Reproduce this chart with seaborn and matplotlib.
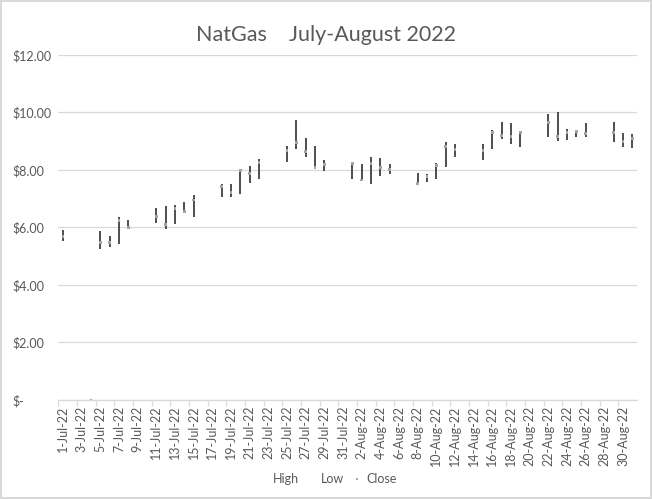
import pandas as pd
import numpy as np
import matplotlib
matplotlib.use("Agg")
import matplotlib.pyplot as plt
import matplotlib.dates as mdates
from matplotlib.lines import Line2D
import seaborn as sns

# trading days (Jul 4 holiday shows as a zero close)
dates = ["2022-07-01", "2022-07-04", "2022-07-05", "2022-07-06", "2022-07-07", "2022-07-08",
         "2022-07-11", "2022-07-12", "2022-07-13", "2022-07-14", "2022-07-15",
         "2022-07-18", "2022-07-19", "2022-07-20", "2022-07-21", "2022-07-22",
         "2022-07-25", "2022-07-26", "2022-07-27", "2022-07-28", "2022-07-29",
         "2022-08-01", "2022-08-02", "2022-08-03", "2022-08-04", "2022-08-05",
         "2022-08-08", "2022-08-09", "2022-08-10", "2022-08-11", "2022-08-12",
         "2022-08-15", "2022-08-16", "2022-08-17", "2022-08-18", "2022-08-19",
         "2022-08-22", "2022-08-23", "2022-08-24", "2022-08-25", "2022-08-26",
         "2022-08-29", "2022-08-30", "2022-08-31"]
high = [5.91, np.nan, 5.88, 5.70, 6.37, 6.26,
        6.68, 6.75, 6.78, 6.88, 7.13,
        7.51, 7.51, 7.99, 8.14, 8.38,
        8.83, 9.74, 9.10, 8.83, 8.35,
        8.27, 8.20, 8.44, 8.41, 8.20,
        7.88, 7.85, 8.23, 8.96, 8.90,
        8.90, 9.38, 9.67, 9.63, 9.35,
        9.95, 10.02, 9.43, 9.39, 9.63,
        9.67, 9.29, 9.25]
low = [5.54, np.nan, 5.26, 5.33, 5.44, 5.97,
       6.17, 5.96, 6.13, 6.49, 6.38,
       7.05, 7.07, 7.15, 7.56, 7.70,
       8.29, 8.72, 8.44, 8.06, 7.97,
       7.69, 7.61, 7.50, 7.78, 7.85,
       7.51, 7.57, 7.68, 8.12, 8.46,
       8.36, 8.73, 9.09, 8.89, 8.81,
       9.14, 9.02, 9.05, 9.14, 9.14,
       8.99, 8.81, 8.78]
close = [5.68, 0.0, 5.47, 5.47, 6.24, 5.99,
         6.38, 6.10, 6.65, 6.55, 6.96,
         7.42, 7.21, 7.98, 7.87, 8.25,
         8.67, 8.95, 8.64, 8.08, 8.18,
         8.23, 7.65, 8.22, 8.08, 8.01,
         7.54, 7.77, 8.15, 8.81, 8.72,
         8.67, 9.31, 9.21, 9.16, 9.31,
         9.66, 9.16, 9.30, 9.33, 9.26,
         9.30, 8.99, 9.09]
y_ticks = [0, 2, 4, 6, 8, 10, 12]

df = pd.DataFrame({"date": pd.to_datetime(dates), "high": high, "low": low, "close": close})

sns.set_theme(style="white")
plt.rcParams["font.family"] = ["Lato", "DejaVu Sans"]
grey_text = "#595959"
grid_col = "#d9d9d9"

fig = plt.figure(figsize=(6.52, 4.99), dpi=100)
fig.patch.set_edgecolor(grid_col)
fig.patch.set_linewidth(1.5)
ax = fig.add_axes([0.0894, 0.1984, 0.8876, 0.6914])

hl = df.dropna(subset=["high", "low"])
ax.vlines(hl["date"], hl["low"], hl["high"], color="#404040", linewidth=1.3, zorder=2)
sns.scatterplot(data=df, x="date", y="close", marker="s", s=4, color="#a5a5a5",
                edgecolor="none", linewidth=0, ax=ax, zorder=3, legend=False)

# y axis
ax.set_ylim(0, 12)
ax.set_yticks(y_ticks)
ax.set_yticklabels(["$-" if v == 0 else f"${v:,.2f}" for v in y_ticks])
ax.yaxis.grid(True, color=grid_col, linewidth=0.9)
ax.tick_params(axis="y", length=0, pad=33, labelsize=9, labelcolor=grey_text)
for lab in ax.get_yticklabels():
    lab.set_horizontalalignment("left")

# x axis: one slot per calendar day, labels every other day
start = pd.Timestamp("2022-07-01")
end = pd.Timestamp("2022-08-31")
ax.set_xlim(mdates.date2num(start) - 0.5, mdates.date2num(end) + 0.5)
label_days = pd.date_range(start, end, freq="2D")
ax.set_xticks(mdates.date2num(label_days))
ax.set_xticklabels([f"{d.day}-{d:%b-%y}" for d in label_days], rotation=90)
ax.set_xticks(mdates.date2num(label_days) - 0.5, minor=True)
ax.tick_params(axis="x", which="major", length=0, pad=4, labelsize=9, labelcolor=grey_text)
ax.tick_params(axis="x", which="minor", bottom=True, length=4, width=0.9, color=grid_col)
ax.set_xlabel("")
ax.set_ylabel("")

for s in ["top", "right", "left"]:
    ax.spines[s].set_visible(False)
ax.spines["bottom"].set_color(grid_col)
ax.spines["bottom"].set_linewidth(0.9)

fig.suptitle("NatGas    July-August 2022", x=0.5, y=0.95, fontsize=15.5, color=grey_text)

handles = [Line2D([], [], linestyle="none"),
           Line2D([], [], linestyle="none"),
           Line2D([], [], linestyle="none", marker="s", markersize=1.8,
                  color="#a5a5a5", markeredgewidth=0)]
fig.legend(handles, ["High", "Low", "Close"], loc="center", bbox_to_anchor=(0.502, 0.04),
           ncol=3, frameon=False, fontsize=9, labelcolor=grey_text,
           handlelength=0.8, handletextpad=0.4, columnspacing=0.6)

fig.savefig("out.png", dpi=100)
